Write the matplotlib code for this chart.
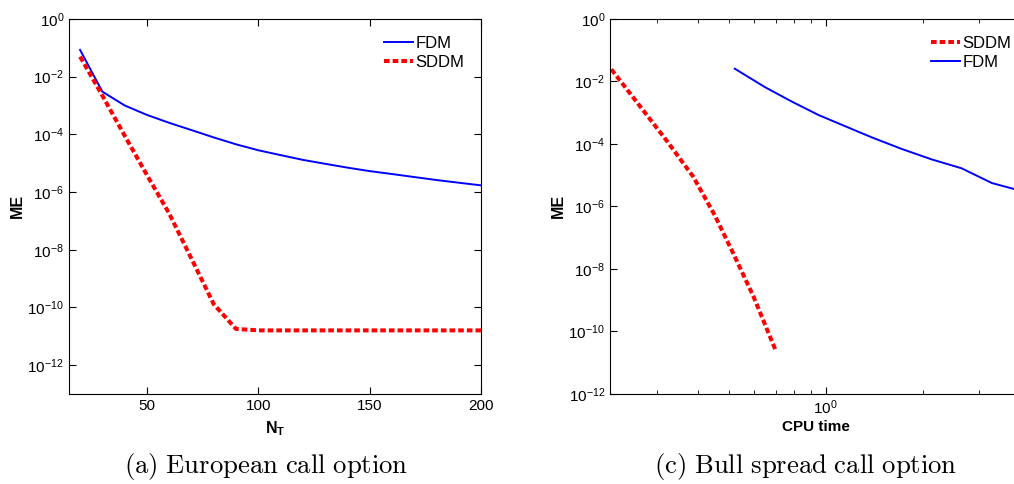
import matplotlib
matplotlib.use("Agg")
import matplotlib.pyplot as plt
import matplotlib.ticker as mticker

plt.rcParams['font.family'] = ['Liberation Sans', 'DejaVu Sans']
plt.rcParams['mathtext.fontset'] = 'custom'
plt.rcParams['mathtext.rm'] = 'Liberation Sans'
plt.rcParams['mathtext.it'] = 'Liberation Sans:italic'
plt.rcParams['mathtext.bf'] = 'Liberation Sans:bold'

# (a) European call option: error vs number of time steps
nt = [20, 30, 40, 50, 60, 70, 80, 90, 100, 110, 120, 130, 140, 150, 160, 170, 180, 190, 200]
fdm_a = [8.4e-2, 3.0e-3, 1.0e-3, 4.7e-4, 2.5e-4, 1.4e-4, 7.8e-5, 4.5e-5, 2.8e-5, 1.9e-5,
         1.3e-5, 9.5e-6, 7.0e-6, 5.3e-6, 4.2e-6, 3.3e-6, 2.6e-6, 2.1e-6, 1.7e-6]
sddm_a = [4.9e-2, 2.2e-3, 9.0e-5, 3.9e-6, 1.8e-7, 4.9e-9, 1.3e-10, 1.8e-11, 1.6e-11, 1.6e-11,
          1.6e-11, 1.6e-11, 1.6e-11, 1.6e-11, 1.6e-11, 1.6e-11, 1.6e-11, 1.6e-11, 1.6e-11]

# (c) Bull spread call option: error vs CPU time
cpu_sddm = [0.216, 0.264, 0.321, 0.388, 0.453, 0.522, 0.597, 0.697]
sddm_c = [2.43e-2, 1.7e-3, 1.26e-4, 8.9e-6, 5.1e-7, 2.5e-8, 1.3e-9, 2.7e-11]
cpu_fdm = [0.522, 0.647, 0.783, 0.948, 1.148, 1.390, 1.722, 2.133, 2.642, 2.911, 3.281, 3.846]
fdm_c = [2.55e-2, 6.6e-3, 2.29e-3, 8.5e-4, 3.7e-4, 1.62e-4, 6.9e-5, 3.2e-5, 1.66e-5,
         1.02e-5, 5.6e-6, 3.6e-6]

yt = [1e0, 1e-2, 1e-4, 1e-6, 1e-8, 1e-10, 1e-12]
dots = (0, (1.4, 0.75))

fig = plt.figure(figsize=(10.14, 4.84), dpi=100)
ax1 = fig.add_axes([0.068, 0.186, 0.4063, 0.775])
ax2 = fig.add_axes([0.6016, 0.186, 0.4063, 0.775])

ax1.semilogy(nt, fdm_a, color='blue', lw=1.4, label='FDM')
ax1.semilogy(nt, sddm_a, color='red', lw=2.9, ls=dots, label='SDDM')
ax1.set_xlim(15, 200)
ax1.set_ylim(1e-13, 1e0)
ax1.set_xticks([50, 100, 150, 200])
ax1.set_xlabel(r'$\mathbf{N_T}$', fontsize=11.5, labelpad=5)

ax2.loglog(cpu_sddm, sddm_c, color='red', lw=2.9, ls=dots, label='SDDM')
ax2.loglog(cpu_fdm, fdm_c, color='blue', lw=1.4, label='FDM')
ax2.set_xlim(0.214, 4.07)
ax2.set_ylim(1e-12, 1e0)
ax2.xaxis.set_major_locator(mticker.FixedLocator([1.0]))
ax2.xaxis.set_minor_locator(mticker.FixedLocator([0.3, 0.4, 0.5, 0.6, 0.7, 0.8, 0.9, 2, 3, 4]))
ax2.xaxis.set_minor_formatter(mticker.NullFormatter())
ax2.set_xlabel('CPU time', fontsize=11, fontweight='bold', labelpad=2)

for ax, anchor in ((ax1, 1.0), (ax2, 1.0146)):
    ax.yaxis.set_major_locator(mticker.FixedLocator(yt))
    ax.yaxis.set_minor_locator(mticker.NullLocator())
    ax.tick_params(which='both', direction='in', top=True, right=True, labelsize=11)
    ax.tick_params(which='major', length=5)
    ax.tick_params(which='minor', length=3)
    ax.set_ylabel('ME', fontsize=11.5, fontweight='bold', labelpad=2)
    ax.legend(loc='upper right', bbox_to_anchor=(anchor, 1.0), frameon=False, fontsize=12,
              handlelength=1.75, handletextpad=0.15, borderaxespad=0.6, labelspacing=0.25)

fig.text(0.2623, 0.0227, r'$\mathrm{(a)\ European\ call\ option}$', ha='center', va='baseline',
         fontsize=19.2, math_fontfamily='cm')
fig.text(0.794, 0.0227, r'$\mathrm{(c)\ Bull\ spread\ call\ option}$', ha='center', va='baseline',
         fontsize=19.2, math_fontfamily='cm')

fig.savefig('out.png', dpi=100)
